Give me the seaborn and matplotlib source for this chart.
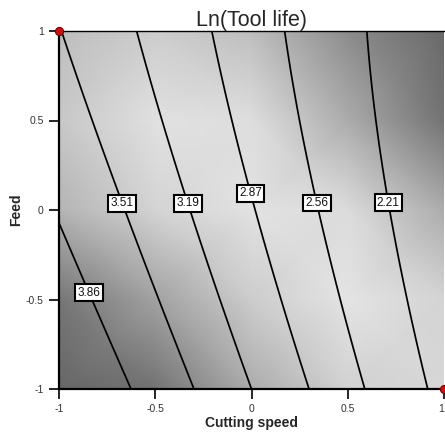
import numpy as np
import matplotlib
matplotlib.use("Agg")
import matplotlib.pyplot as plt
import seaborn as sns

# Response model for Ln(Tool life) in coded units (A = Cutting speed, B = Feed)
coef_terms = ["Intercept", "A", "B", "AB", "B^2"]
coef_values = [2.888, -0.945, -0.2445, 0.1255, 0.0575]

# Contour levels and label anchor points
contour_levels = [2.21, 2.56, 2.87, 3.19, 3.51, 3.86]
label_x = [0.71, 0.345, 0.0, -0.325, -0.665, -0.84]
label_y = [0.04, 0.04, 0.095, 0.04, 0.04, -0.46]

# Background gray shading (0-255), rows from Feed = 1 down to Feed = -1
shade_x = [-1.0, -0.5, 0.0, 0.5, 1.0]
shade_y = [1.0, 0.5, 0.0, -0.5, -1.0]
shade_gray = [
    [190, 205, 190, 140, 105],
    [200, 225, 222, 172, 115],
    [180, 212, 226, 220, 172],
    [118, 162, 205, 228, 212],
    [102, 115, 172, 210, 215],
]

# Design points shown as red dots
design_x = [-1.0, 1.0]
design_y = [1.0, -1.0]

tick_values = [-1, -0.5, 0, 0.5, 1]
tick_labels = ["-1", "-0.5", "0", "0.5", "1"]

sns.set_style("ticks")
plt.rcParams["font.family"] = ["Liberation Sans", "DejaVu Sans"]

fig = plt.figure(figsize=(4.45, 4.37), dpi=100)
ax = fig.add_axes([59 / 445, 48 / 437, 385 / 445, 358 / 437])

# background shading
SX, SY = np.meshgrid(shade_x, shade_y)
ax.pcolormesh(SX, SY, np.array(shade_gray, dtype=float), shading="gouraud",
              cmap="gray", vmin=0, vmax=255, zorder=0)

# response surface
c = dict(zip(coef_terms, coef_values))
gx = np.linspace(-1, 1, 201)
gy = np.linspace(-1, 1, 201)
A, B = np.meshgrid(gx, gy)
Z = c["Intercept"] + c["A"] * A + c["B"] * B + c["AB"] * A * B + c["B^2"] * B ** 2

cs = ax.contour(A, B, Z, levels=contour_levels, colors="black", linewidths=1.25, zorder=2)
texts = ax.clabel(cs, contour_levels, inline=False, fmt="%.2f", fontsize=8.5,
                  manual=list(zip(label_x, label_y)))
for t in texts:
    t.set_rotation(0)
    t.set_color("#111111")
    t.set_zorder(4)
    t.set_bbox(dict(boxstyle="square,pad=0.2", fc="white", ec="black", lw=1.5))

ax.scatter(design_x, design_y, s=34, color="#cc1111", edgecolors="#7a0000",
           linewidths=0.8, clip_on=False, zorder=6)

ax.set_xlim(-1, 1)
ax.set_ylim(-1, 1)
ax.set_xticks(tick_values)
ax.set_xticklabels(tick_labels)
ax.set_yticks(tick_values)
ax.set_yticklabels(tick_labels)
ax.tick_params(direction="out", length=7, width=1.2, labelsize=7.5, pad=4,
               colors="black", labelcolor="#333333")
ax.get_xticklabels()[-1].set_horizontalalignment("right")

for side in ["left", "bottom"]:
    ax.spines[side].set_linewidth(1.6)
    ax.spines[side].set_color("black")
ax.spines["top"].set_linewidth(1.0)
ax.spines["top"].set_color("black")
ax.spines["right"].set_visible(False)

ax.set_title("Ln(Tool life)", fontsize=15.5, pad=2)
ax.set_xlabel("Cutting speed", fontsize=10, fontweight="bold", labelpad=1)
ax.set_ylabel("Feed", fontsize=10, fontweight="bold", labelpad=2)

fig.savefig("out.png", dpi=100)
